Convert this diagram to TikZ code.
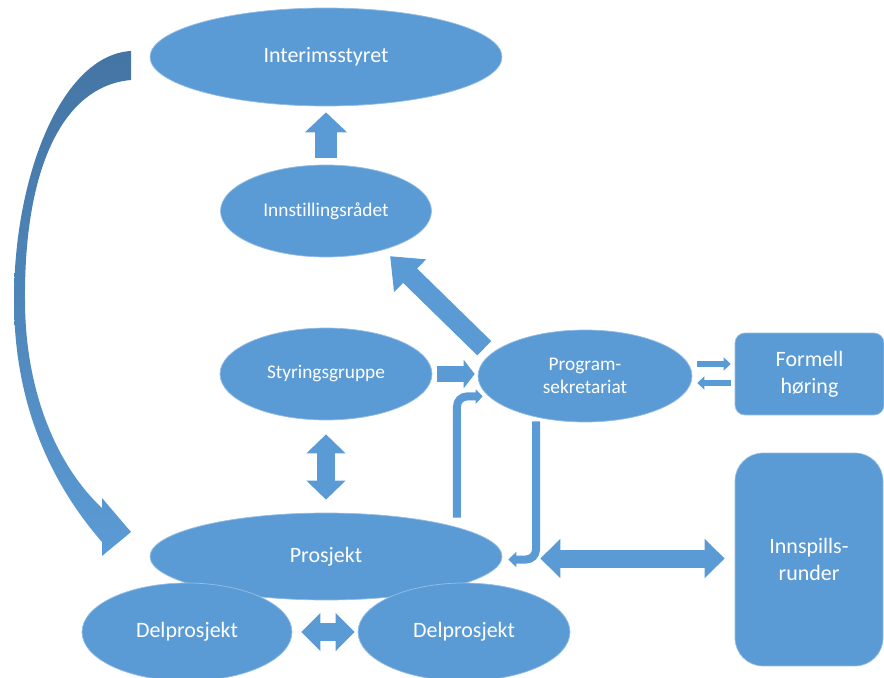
\documentclass[tikz,border=0pt]{standalone}
\usepackage{fontspec}
\setmainfont{Carlito}[Ligatures=NoCommon]
\usetikzlibrary{arrows.meta, shapes.geometric, calc}
\definecolor{BoxBlue}{RGB}{91,155,213}
\definecolor{ArrowDark}{RGB}{68,117,164}
\definecolor{EdgeBlue}{RGB}{150,190,228}

\tikzset{
  oval/.style={ellipse, fill=BoxBlue, draw=EdgeBlue, line width=0.4pt, text=white, inner sep=0pt, align=center},
  card/.style={rectangle, fill=BoxBlue, draw=EdgeBlue, line width=0.4pt, text=white, inner sep=0pt, align=center},
  bigtext/.style={font=\fontsize{12.5}{15.5}\selectfont},
  smalltext/.style={font=\fontsize{11}{13}\selectfont},
  blk/.style n args={3}{draw=BoxBlue, line width=#1, -{Triangle[width=#2, length=#3]}},
  blkboth/.style n args={3}{draw=BoxBlue, line width=#1, {Triangle[width=#2, length=#3]}-{Triangle[width=#2, length=#3]}},
}

\begin{document}
\begin{tikzpicture}[x=0.02cm, y=-0.02cm]
\useasboundingbox (0,0) rectangle (884,678);

% enheter
\node[oval, bigtext, minimum width=7.04cm, minimum height=1.96cm] (interim) at (326,57) {Interimsstyret};
\node[oval, smalltext, minimum width=4.22cm, minimum height=1.84cm] (innst) at (326,211) {Innstillingsrådet};
\node[oval, smalltext, minimum width=4.24cm, minimum height=1.84cm] (styr) at (326,374) {Styringsgruppe};
\node[oval, smalltext, minimum width=4.28cm, minimum height=1.84cm] (prog) at (585,376) {Program-\\sekretariat};
\node[card, bigtext, rounded corners=0.2cm, minimum width=2.98cm, minimum height=1.64cm] (horing) at (809.5,374) {Formell\\høring};
\node[card, bigtext, rounded corners=0.56cm, minimum width=2.96cm, minimum height=4.26cm] (innspill) at (809,559.5) {Innspills-\\runder};
\node[oval, bigtext, minimum width=7.04cm, minimum height=1.74cm] (prosj) at (326,556.5) {Prosjekt};
\node[oval, bigtext, minimum width=4.2cm, minimum height=1.96cm] (delA) at (187,632) {Delprosjekt};
\node[oval, bigtext, minimum width=4.24cm, minimum height=1.96cm] (delB) at (464,632) {Delprosjekt};

% blokkpiler
\draw[blk={0.44cm}{0.82cm}{0.4cm}, shorten <=0.14cm, shorten >=0.12cm] (innst.north) -- (interim.south);
\draw[blk={0.4cm}{0.88cm}{0.56cm}, shorten <=0.17cm, shorten >=0.18cm] (prog.167) -- (innst.-34);
\draw[blk={0.32cm}{0.56cm}{0.22cm}, shorten <=0.1cm, shorten >=0.06cm] (styr.east) -- (styr.east -| prog.west);
\draw[blkboth={0.36cm}{0.76cm}{0.38cm}, shorten <=0.28cm, shorten >=0.26cm] (styr.south) -- (prosj.north);

% formell høring, begge veier
\draw[blk={0.11cm}{0.26cm}{0.14cm}, shorten <=0.1cm, shorten >=0.08cm] ([yshift=0.2cm]horing.west -| prog.east) -- ([yshift=0.2cm]horing.west);
\draw[blk={0.11cm}{0.26cm}{0.14cm}, shorten <=0.08cm, shorten >=0.1cm] ([yshift=-0.18cm]horing.west) -- ([yshift=-0.18cm]horing.west -| prog.east);

% knekkpiler mellom prosjekt og sekretariat
\draw[blk={0.16cm}{0.28cm}{0.14cm}, rounded corners=0.2cm, shorten >=0.12cm] ([shift={(2.62cm,-0.1cm)}]prosj.north) |- (prog.192);
\draw[blk={0.16cm}{0.3cm}{0.16cm}, rounded corners=0.2cm, shorten >=0.12cm] ([shift={(-0.98cm,0.02cm)}]prog.south) |- ([yshift=-0.06cm]prosj.east);

% innspill og delprosjekter
\draw[blkboth={0.36cm}{0.76cm}{0.4cm}, shorten <=0.76cm, shorten >=0.2cm] ([yshift=-0.04cm]prosj.east) -- ([yshift=-0.04cm]prosj.east -| innspill.west);
\draw[blkboth={0.36cm}{0.74cm}{0.38cm}, shorten <=0.18cm, shorten >=0.06cm] (delA.east) -- (delB.west);

% buet pil fra interimsstyret ned til prosjekt
\shade[top color=ArrowDark, bottom color=BoxBlue, middle color=BoxBlue!45!ArrowDark]
  (131,51) .. controls (62,55) and (14,175) .. (14,300)
  .. controls (14,400) and (48,480) .. (102,542)
  -- (102,556) -- (131,532) -- (102,498) -- (102,508)
  .. controls (56,465) and (25,390) .. (25,300)
  .. controls (24,170) and (62,86) .. (131,80) -- cycle;

\end{tikzpicture}
\end{document}
